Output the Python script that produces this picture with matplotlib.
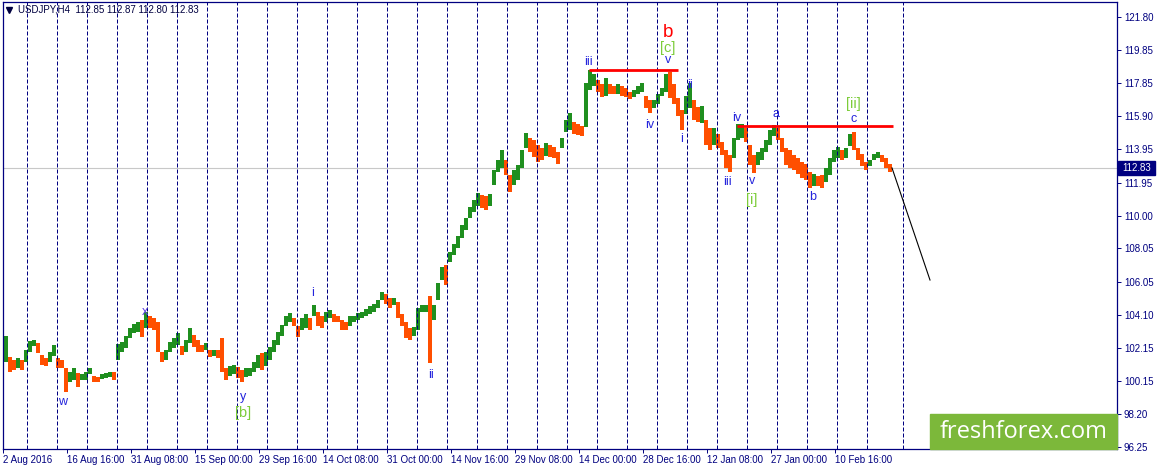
import matplotlib
matplotlib.use("Agg")
import matplotlib.pyplot as plt
from matplotlib.patches import Rectangle
from matplotlib.lines import Line2D
from matplotlib.transforms import blended_transform_factory
import numpy as np

plt.rcParams['font.family'] = ['Liberation Sans', 'DejaVu Sans']

# USDJPY H4, one entry per 4 bars (high / low of the group)
highs = [
    102.85, 101.60, 101.42, 101.54, 101.42, 102.01, 102.55, 102.61, 102.43, 101.72,
    101.54, 101.89, 102.31, 101.54, 101.42, 100.94, 100.71, 100.94, 100.65, 100.59,
    100.71, 100.94, 100.47, 100.41, 100.59, 100.65, 100.71, 100.71, 102.37, 102.49,
    102.85, 103.32, 103.56, 103.68, 103.80, 104.27, 104.03, 103.91, 103.68, 101.89,
    102.01, 102.49, 102.73, 103.02, 102.25, 102.61, 103.32, 102.90, 102.61, 102.31,
    102.43, 102.01, 102.01, 102.01, 102.73, 100.94, 101.06, 101.12, 101.00, 100.82,
    100.94, 100.94, 101.30, 101.72, 101.83, 101.89, 102.19, 102.61, 103.08, 103.50,
    104.03, 104.21, 103.91, 103.44, 103.91, 104.15, 103.91, 104.69, 104.27, 104.03,
    104.27, 104.39, 104.15, 104.03, 103.80, 103.68, 104.03, 104.03, 104.21, 104.27,
    104.45, 104.63, 104.75, 104.98, 105.46, 105.34, 105.10, 105.10, 104.86, 104.15,
    103.68, 103.32, 103.38, 104.51, 104.69, 104.69, 105.22, 104.69, 105.99, 106.94,
    107.06, 107.84, 108.31, 108.79, 109.44, 109.86, 110.51, 110.93, 111.34, 111.22,
    111.16, 111.28, 112.71, 113.30, 113.90, 113.30, 112.41, 112.71, 113.01, 113.90,
    114.91, 114.61, 114.49, 114.19, 114.02, 114.31, 114.19, 114.08, 113.78, 114.61,
    115.68, 116.09, 115.56, 115.44, 115.32, 117.88, 118.65, 118.41, 118.06, 117.82,
    118.18, 117.82, 117.70, 117.82, 117.70, 117.58, 117.34, 117.46, 117.70, 117.88,
    117.11, 116.87, 116.87, 117.22, 117.58, 118.41, 118.53, 117.82, 116.99, 116.27,
    117.11, 117.88, 116.87, 116.45, 116.51, 115.68, 115.20, 115.20, 114.85, 114.37,
    113.90, 113.60, 114.61, 115.44, 115.44, 115.20, 114.19, 113.60, 113.78, 114.02,
    114.49, 115.09, 115.38, 115.20, 114.61, 114.02, 113.90, 113.60, 113.42, 113.18,
    113.06, 112.59, 112.47, 112.35, 112.41, 112.83, 113.42, 113.90, 114.08, 113.90,
    114.02, 114.85, 114.97, 114.02, 113.66, 113.18, 113.30, 113.66, 113.78, 113.60,
    113.42, 113.06]
lows = [
    101.30, 100.71, 100.82, 100.94, 100.82, 101.30, 101.89, 102.25, 101.83, 101.12,
    101.06, 101.30, 101.66, 100.94, 100.94, 99.52, 100.11, 100.23, 99.81, 100.23,
    100.23, 100.59, 100.11, 100.11, 100.29, 100.35, 100.41, 100.23, 101.42, 101.89,
    102.13, 102.73, 103.02, 103.08, 102.79, 103.32, 103.32, 103.20, 101.89, 101.30,
    101.42, 101.89, 102.13, 102.31, 101.72, 101.89, 102.43, 102.19, 101.89, 101.89,
    102.01, 101.60, 101.66, 101.54, 100.71, 100.23, 100.47, 100.59, 100.35, 100.11,
    100.41, 100.47, 100.71, 100.94, 100.82, 101.06, 101.42, 101.89, 102.31, 102.85,
    103.44, 103.68, 103.44, 102.79, 103.20, 103.32, 103.20, 104.03, 103.44, 103.32,
    103.68, 103.91, 103.68, 103.68, 103.20, 103.20, 103.44, 103.68, 103.80, 103.91,
    104.03, 104.15, 104.27, 104.51, 104.98, 104.75, 104.51, 104.69, 103.91, 103.44,
    102.73, 102.61, 102.85, 103.20, 104.27, 104.27, 101.24, 103.80, 104.98, 106.17,
    105.88, 107.24, 107.66, 108.07, 108.67, 109.14, 109.86, 110.21, 110.57, 110.45,
    110.33, 110.57, 111.82, 112.59, 112.83, 112.41, 111.40, 111.82, 112.11, 112.83,
    114.02, 113.78, 113.48, 113.18, 113.30, 113.54, 113.48, 113.42, 113.06, 114.02,
    114.97, 115.09, 114.85, 114.79, 114.73, 115.26, 117.46, 117.70, 117.34, 117.05,
    117.11, 117.22, 117.22, 117.22, 117.11, 117.05, 116.93, 117.05, 117.22, 117.34,
    116.39, 116.09, 116.39, 116.63, 117.11, 117.34, 116.99, 116.63, 115.92, 115.09,
    116.04, 116.39, 115.68, 115.56, 115.50, 114.19, 113.90, 114.19, 114.02, 113.60,
    112.83, 112.59, 113.42, 114.49, 114.61, 114.37, 113.01, 112.53, 113.01, 113.30,
    113.78, 114.19, 114.73, 114.49, 113.78, 113.01, 112.83, 112.71, 112.47, 112.23,
    112.11, 111.64, 111.76, 111.76, 111.64, 111.99, 112.41, 113.18, 113.42, 113.30,
    113.42, 114.13, 113.90, 113.30, 112.95, 112.71, 112.95, 113.30, 113.42, 113.18,
    112.83, 112.59]

last_price = 112.83

date_ticks = [0, 64, 128, 192, 256, 320, 384, 448, 512, 576, 640, 704, 768, 832]
date_labels = ["2 Aug 2016", "16 Aug 16:00", "31 Aug 08:00", "15 Sep 00:00",
               "29 Sep 16:00", "14 Oct 08:00", "31 Oct 00:00", "14 Nov 16:00",
               "29 Nov 08:00", "14 Dec 00:00", "28 Dec 16:00", "12 Jan 08:00",
               "27 Jan 00:00", "10 Feb 16:00"]
week_lines = list(range(24, 865, 30)) + [900]

price_ticks = [121.80, 119.85, 117.85, 115.90, 113.95, 111.95, 110.00,
               108.05, 106.05, 104.10, 102.15, 100.15, 98.20, 96.25]

# resistance lines: level, start bar, end bar
res_levels = [118.65, 115.32]
res_start = [586, 734]
res_end = [675, 890]

# forecast line
proj_x = [889, 927]
proj_y = [112.83, 106.17]

# wave labels
wave_text = ["w", "x", "y", "[b]", "i", "ii", "iii", "b", "[c]", "v", "iv", "i", "ii",
             "iii", "iv", "v", "[i]", "a", "b", "c", "[ii]"]
wave_x = [60, 142, 240, 240, 310, 428, 585, 665, 665, 665, 647, 679, 687,
          724, 734, 749, 749, 773, 810, 851, 850]
wave_y = [98.92, 104.30, 99.24, 98.26, 105.38, 100.53, 119.14, 120.89, 119.94, 119.26,
          115.38, 114.54, 117.76, 112.01, 115.78, 112.06, 110.93, 116.02, 111.12,
          115.74, 116.61]
BLUE = "#2424dc"
LGREEN = "#7ccc3a"
wave_col = [BLUE, "#5a3ee0", BLUE, LGREEN, BLUE, BLUE, BLUE, "#ff0000", LGREEN, BLUE,
            BLUE, BLUE, BLUE, BLUE, BLUE, BLUE, LGREEN, BLUE, BLUE, BLUE, LGREEN]
wave_size = [9, 9, 9, 10.5, 9, 9, 9, 13.5, 10.5, 9, 9, 9, 9, 9, 9, 9, 10.5, 9, 9, 9, 10.5]

NAVY = "#000080"
GREEN = "#1f8f1f"
ORANGE = "#ff4f00"

W, H = 1157, 470
fig = plt.figure(figsize=(W / 100, H / 100), dpi=100)
ax = fig.add_axes([3 / W, 21 / H, 1114 / W, 447 / H])

hi = np.array(highs)
lo = np.array(lows)
xs = np.arange(len(hi)) * 4 + 3
mid = (hi + lo) / 2
up = np.r_[True, mid[1:] >= mid[:-1]]
cols = np.where(up, GREEN, ORANGE)

ax.axhline(last_price, color="#c8c8c8", lw=0.8, zorder=0)
ax.vlines(xs, lo, hi, colors=cols, linewidth=2.88, zorder=2)
for wl in week_lines:
    ax.axvline(wl, color=NAVY, lw=0.72, ls=(0, (4, 2)), zorder=3)

ax.hlines(res_levels, res_start, res_end, colors="#ff0000", lw=2.0, zorder=4)
ax.plot(proj_x, proj_y, color="black", lw=0.8, zorder=4)

for t, wx, wy, c, s in zip(wave_text, wave_x, wave_y, wave_col, wave_size):
    ax.text(wx, wy, t, color=c, fontsize=s, ha="center", va="center", zorder=5)

ax.set_xlim(0, 1114)
ax.set_ylim(96.13, 122.69)

ax.yaxis.tick_right()
ax.set_yticks(price_ticks)
ax.set_yticklabels(["%.2f" % v for v in price_ticks])
ax.set_xticks(date_ticks)
ax.set_xticklabels(date_labels, ha="left")
ax.tick_params(axis="y", direction="out", length=3, width=0.7, color=NAVY,
               labelcolor=NAVY, labelsize=7, pad=2)
ax.tick_params(axis="x", direction="out", length=3, width=0.7, color=NAVY,
               labelcolor=NAVY, labelsize=7, pad=1.5)
for sp in ax.spines.values():
    sp.set_color(NAVY)
    sp.set_linewidth(0.9)

# current price tag on the axis
tr = blended_transform_factory(ax.transAxes, ax.transData)
ax.add_patch(Rectangle((1 + 1 / 1114, last_price - 7 / 16.83), 37 / 1114, 14 / 16.83,
                       transform=tr, color=NAVY, clip_on=False, zorder=6))
ax.text(1 + 19.5 / 1114, last_price, "%.2f" % last_price, transform=tr, color="white",
        fontsize=7, ha="center", va="center", zorder=7, clip_on=False)

# header
fig.add_artist(Line2D([9 / W], [1 - 10 / H], marker="v", markersize=4.5, color="#000040",
                      transform=fig.transFigure))
fig.text(18 / W, 1 - 10 / H, "USDJPY,H4  112.85 112.87 112.80 112.83", fontsize=7,
         color="#000040", va="center", ha="left")

# watermark
wm = Rectangle((930 / W, 21 / H), 187 / W, 35 / H, transform=fig.transFigure,
               color="#7cb83a", zorder=10)
fig.add_artist(wm)
fig.text(1023.5 / W, (H - 431.5) / H, "freshforex.com", fontsize=17, color="white",
         family=["Open Sans", "DejaVu Sans"], ha="center", va="center", zorder=11)

fig.savefig("out.png", dpi=100)
